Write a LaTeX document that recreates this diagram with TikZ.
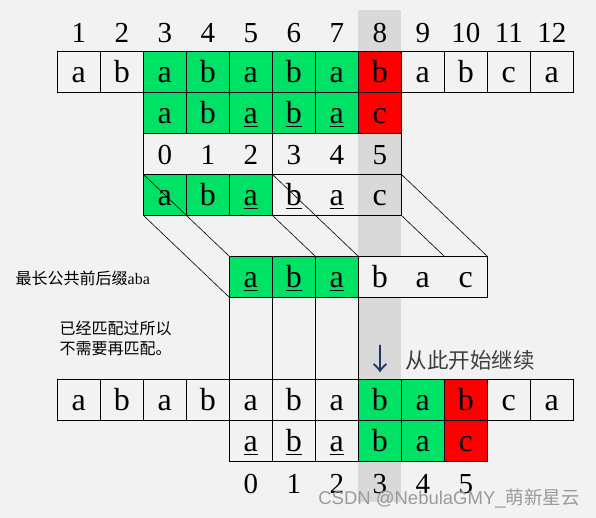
\documentclass[tikz,border=0pt]{standalone}
\usepackage{fontspec}
\setmainfont{Liberation Serif}
\newfontfamily\cjk{Noto Sans CJK SC}
\newfontfamily\wmfont{Liberation Sans}
\usetikzlibrary{positioning}
\definecolor{bg}{HTML}{F2F2F2}
\definecolor{grn}{HTML}{00E266}
\definecolor{band}{HTML}{D9D9D9}
\definecolor{navy}{HTML}{1F3A60}
\definecolor{darktext}{HTML}{3F3F3F}
\definecolor{wmgray}{HTML}{9A9A9A}
\newcommand{\ulc}[1]{\setbox0\hbox{#1}\rlap{\rule[-3.5pt]{\wd0}{1.4pt}}\box0}
\tikzset
{
    cell/.style  = {rectangle, draw=black, line width=0.9pt, minimum width=43pt, minimum height=41pt, inner sep=0pt, outer sep=0pt, text height=22pt, text depth=0pt, font=\fontsize{32}{32}\selectfont},
    slot/.style  = {cell, draw=none},
    num/.style   = {slot, font=\fontsize{29}{29}\selectfont},
    wide/.style  = {cell, minimum width=129pt},
    link/.style  = {draw=black, line width=0.6pt},
    note/.style  = {inner sep=0pt, anchor=west, align=left, font=\cjk\fontsize{16}{20}\selectfont}
}
\begin{document}
\begin{tikzpicture}[x=1pt, y=-1pt]
	\fill [bg] (0,0) rectangle (596,518);
	\useasboundingbox (0,0) rectangle (596,518);
	\fill [band] (358.3,10) rectangle (401.3,501.7);

	\foreach \i in {1,...,12}
		\node (n\i) [num] at (35.8+43*\i, 31.3) {\i};
	\foreach \t/\f [count=\i] in {a/none,b/none,a/grn,b/grn,a/grn,b/grn,a/grn,b/red,a/none,b/none,c/none,a/none}
		\node (r1c\i) [cell, fill=\f] at (35.8+43*\i, 71.8) {\t};
	\foreach \t/\f [count=\i from 3] in {a/grn,b/grn,\ulc{a}/grn,\ulc{b}/grn,\ulc{a}/grn,c/red}
		\node (r2c\i) [cell, fill=\f] at (35.8+43*\i, 112.8) {\t};

	\node (r3a) [wide] at (35.8+43*4, 153.8) {};
	\node (r3b) [wide] at (35.8+43*7, 153.8) {};
	\foreach \t [count=\i from 3] in {0,...,5}
		\node (r3c\i) [num] at (35.8+43*\i, 153.8) {\t};

	\node (r4box) [wide] at (35.8+43*7, 194.8) {};
	\foreach \t [count=\i from 3] in {a,b,\ulc{a}}
		\node (r4c\i) [cell, fill=grn] at (35.8+43*\i, 194.8) {\t};
	\foreach \t [count=\i from 6] in {\ulc{b},\ulc{a},c}
		\node (r4c\i) [slot] at (35.8+43*\i, 194.8) {\t};

	\node (r5box) [wide, fill=bg] at (35.8+43*9, 276.8) {};
	\foreach \t [count=\i from 5] in {\ulc{a},\ulc{b},\ulc{a}}
		\node (r5c\i) [cell, fill=grn] at (35.8+43*\i, 276.8) {\t};
	\foreach \t [count=\i from 8] in {b,a,c}
		\node (r5c\i) [slot] at (35.8+43*\i, 276.8) {\t};

	\foreach \t/\f [count=\i] in {a/none,b/none,a/none,b/none,a/none,b/none,a/none,b/grn,a/grn,b/red,c/none,a/none}
		\node (r6c\i) [cell, fill=\f] at (35.8+43*\i, 399.8) {\t};
	\foreach \t/\f [count=\i from 5] in {\ulc{a}/none,\ulc{b}/none,\ulc{a}/none,b/grn,a/grn,c/red}
		\node (r7c\i) [cell, fill=\f] at (35.8+43*\i, 440.8) {\t};
	\foreach \t [count=\i from 5] in {0,...,5}
		\node (m\i) [num] at (35.8+43*\i, 482.3) {\t};

	\draw [link] (r4c3.north west) -- (r5c5.north west);
	\draw [link] (r4c3.south west) -- (r5c5.south west);
	\draw [link] (r4c6.north west) -- (r5c8.north west);
	\draw [link] (r4c6.south west) -- (r5c6.north east);
	\draw [link] (r4c8.north east) -- (r5c10.north east);
	\draw [link] (r4c8.south east) -- (r5c9.north east);
	\draw [link] (r5c5.south west) -- (r6c5.north west);
	\draw [link] (r5c6.south west) -- (r6c6.north west);
	\draw [link] (r5c7.south west) -- (r6c7.north west);
	\draw [link] (r5c7.south east) -- (r6c8.north west);

	\node (lcp) [note] at (15.5, 278.3) {最长公共前后缀{\rmfamily aba}};
	\node (skip) [note] at (59.5, 338.3) {已经匹配过所以\\不需要再匹配。};
	\node (down) [inner sep=0pt, text=navy, font=\cjk\fontsize{30}{30}\selectfont] at (380, 359.5) {↓};
	\node (go) [anchor=west, inner sep=0pt, text=darktext, font=\cjk\fontsize{21.5}{21.5}\selectfont] at (405.5, 360) {从此开始继续};
	\node (wm) [text=wmgray, font=\wmfont\fontsize{18.5}{18.5}\selectfont] at (449, 498.5) {CSDN @NebulaGMY\_{\cjk 萌新星云}};
\end{tikzpicture}
\end{document}
